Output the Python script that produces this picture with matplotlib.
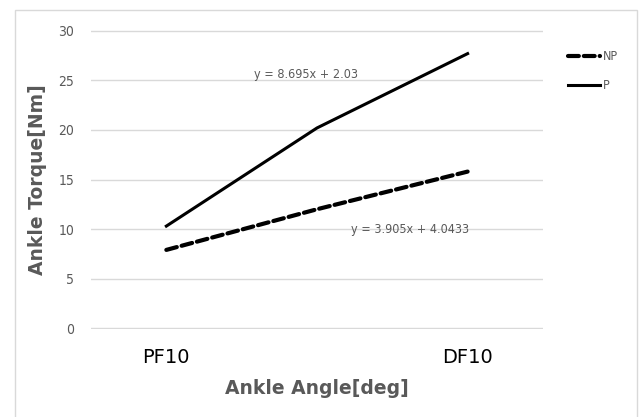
import matplotlib.pyplot as plt
from matplotlib.patches import Rectangle

# data
categories = ["PF10", "", "DF10"]
np_torque = [7.9, 12.0, 15.8]
p_torque = [10.3, 20.2, 27.7]
y_ticks = [0, 5, 10, 15, 20, 25, 30]
eq_p = "y = 8.695x + 2.03"
eq_np = "y = 3.905x + 4.0433"

GRAY = "#595959"
COND = dict(family="DejaVu Sans", stretch="condensed")

fig = plt.figure(figsize=(6.41, 4.17), dpi=100)
ax = fig.add_axes([0.142, 0.211, 0.705, 0.717])

# outer chart border
fig.patches.append(Rectangle((15 / 641, -0.01), 622 / 641, 1 - 10 / 417 + 0.01,
                             transform=fig.transFigure, fill=False,
                             edgecolor="#d9d9d9", linewidth=1.0))

x = range(len(categories))
ax.plot(x, np_torque, color="black", linewidth=3.0, linestyle=(0, (2.6, 1.2)),
        dash_capstyle="round", label="NP")
ax.plot(x, p_torque, color="black", linewidth=2.2, label="P")

ax.set_xlim(-0.5, 2.5)
ax.set_ylim(-0.08, 30.08)
ax.set_yticks(y_ticks)
ax.set_yticklabels([str(v) for v in y_ticks], fontsize=10, color=GRAY, **COND)
ax.set_xticks(list(x))
ax.set_xticklabels(categories, fontsize=14, color="black")
ax.tick_params(axis="both", length=0)
ax.tick_params(axis="x", pad=14)
ax.tick_params(axis="y", pad=12)

ax.grid(axis="y", color="#d9d9d9", linewidth=1.0)
ax.set_axisbelow(True)
for s in ax.spines.values():
    s.set_visible(False)

ax.set_ylabel("Ankle Torque[Nm]", fontsize=13.5, fontweight="bold", color=GRAY, labelpad=8)
ax.set_xlabel("Ankle Angle[deg]", fontsize=13.5, fontweight="bold", color=GRAY, labelpad=8)

# trendline equations
ax.text(0.93, 25.6, eq_p, fontsize=9, color=GRAY, ha="center", va="center", **COND)
ax.text(1.62, 10.0, eq_np, fontsize=9, color=GRAY, ha="center", va="center", **COND)

leg = ax.legend(loc="upper left", bbox_to_anchor=(1.03, 0.97), frameon=False,
                handlelength=2.6, labelspacing=1.3, handletextpad=0.2,
                prop=dict(size=9, **COND))
for t in leg.get_texts():
    t.set_color(GRAY)

fig.savefig("out.png", dpi=100)
